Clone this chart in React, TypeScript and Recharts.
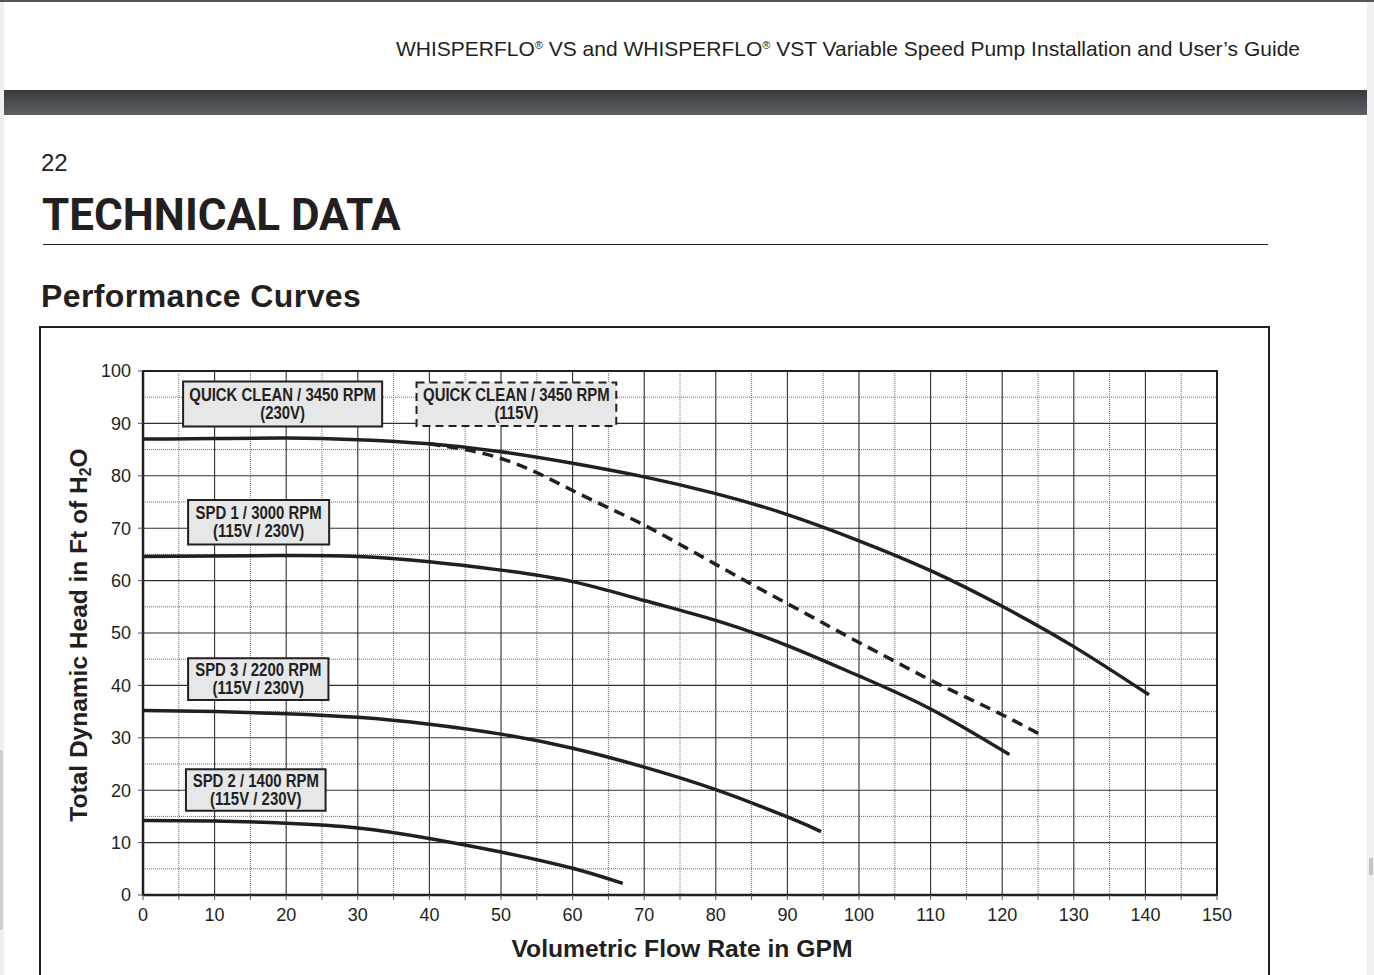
import React from "react";
import { LineChart, Line, XAxis, YAxis, CartesianGrid, ReferenceArea } from "recharts";

const INK = "#231f20";
const SANS = '"Liberation Sans", Arial, Helvetica, sans-serif';

// axis ticks
const xTicks = [0, 5, 10, 15, 20, 25, 30, 35, 40, 45, 50, 55, 60, 65, 70, 75, 80, 85, 90, 95, 100, 105, 110, 115, 120, 125, 130, 135, 140, 145, 150];
const yTicks = [0, 10, 20, 30, 40, 50, 60, 70, 80, 90, 100];
const xMajor = [10, 20, 30, 40, 50, 60, 70, 80, 90, 100, 110, 120, 130, 140];
const xMinor = [5, 15, 25, 35, 45, 55, 65, 75, 85, 95, 105, 115, 125, 135, 145];
const yMajor = [10, 20, 30, 40, 50, 60, 70, 80, 90];
const yMinor = [5, 15, 25, 35, 45, 55, 65, 75, 85, 95];

// curves: [gpm, ft of head]
const quickClean230 = [[0, 87], [10, 87.1], [20, 87.2], [30, 86.9], [40, 86.1], [50, 84.6], [60, 82.4], [70, 79.8], [80, 76.6], [90, 72.6], [100, 67.6], [110, 61.9], [120, 55.1], [130, 47.4], [140.5, 38.2]];
const quickClean115 = [[40, 86.1], [45, 85.0], [50, 83.3], [55, 80.6], [60, 77.2], [65, 73.9], [70, 70.6], [75, 66.9], [80, 63.1], [85, 59.3], [90, 55.6], [95, 51.9], [100, 48.2], [105, 44.6], [110, 41.0], [115, 37.7], [120, 34.4], [125.5, 30.5]];
const spd1 = [[0, 64.6], [10, 64.7], [20, 64.8], [30, 64.6], [40, 63.6], [50, 62.0], [60, 59.8], [70, 56.2], [80, 52.4], [90, 47.6], [100, 41.8], [110, 35.5], [121, 26.8]];
const spd3 = [[0, 35.2], [10, 35.0], [20, 34.6], [30, 33.9], [40, 32.6], [50, 30.7], [60, 28.0], [70, 24.4], [80, 20.1], [90, 14.9], [94.7, 12.1]];
const spd2 = [[0, 14.2], [10, 14.1], [20, 13.7], [30, 12.8], [40, 10.8], [50, 8.2], [60, 5.1], [67, 2.2]];

// label boxes: [x1, x2, y1, y2]
const qc230Box = [5.6, 33.4, 89.4, 98.0];
const qc115Box = [38.2, 66.1, 89.5, 97.8];
const spd1Box = [6.3, 26.0, 66.9, 75.4];
const spd3Box = [6.3, 25.9, 37.2, 45.2];
const spd2Box = [6.0, 25.5, 16.1, 24.0];

const toPoints = (rows: number[][]) => rows.map(([gpm, head]) => ({ gpm, head }));

function BoxLabel(props: any) {
  const { viewBox, lines } = props;
  if (!viewBox) return null;
  const cx = viewBox.x + viewBox.width / 2;
  const cy = viewBox.y + viewBox.height / 2;
  // narrow bold look: squeeze Liberation Sans horizontally around the box centre
  return (
    <g transform={`translate(${cx} 0) scale(0.83 1)`}>
      <text textAnchor="middle" fontFamily={SANS} fontWeight="bold" fontSize={18} fill={INK}>
        <tspan x={0} y={cy - 3}>{lines[0]}</tspan>
        <tspan x={0} y={cy + 15}>{lines[1]}</tspan>
      </text>
    </g>
  );
}

function YTitle(props: any) {
  const { viewBox } = props;
  if (!viewBox) return null;
  const tx = viewBox.x + 4;
  const ty = viewBox.y + viewBox.height / 2 + 2;
  return (
    <text x={tx} y={ty} transform={`rotate(-90, ${tx}, ${ty})`} textAnchor="middle" fontFamily={SANS} fontWeight="bold" fontSize={24.5} fill={INK}>
      Total Dynamic Head in Ft of H<tspan fontSize={16} dy={4}>2</tspan><tspan dy={-4}>O</tspan>
    </text>
  );
}

function XTitle(props: any) {
  const { viewBox } = props;
  if (!viewBox) return null;
  return (
    <text x={viewBox.x + viewBox.width / 2 + 2} y={957} textAnchor="middle" fontFamily={SANS} fontWeight="bold" fontSize={24.7} fill={INK}>
      Volumetric Flow Rate in GPM
    </text>
  );
}

const boxes = [
  { box: qc230Box, lines: ["QUICK CLEAN / 3450 RPM", "(230V)"], dashed: false },
  { box: qc115Box, lines: ["QUICK CLEAN / 3450 RPM", "(115V)"], dashed: true },
  { box: spd1Box, lines: ["SPD 1 / 3000 RPM", "(115V / 230V)"], dashed: false },
  { box: spd3Box, lines: ["SPD 3 / 2200 RPM", "(115V / 230V)"], dashed: false },
  { box: spd2Box, lines: ["SPD 2 / 1400 RPM", "(115V / 230V)"], dashed: false },
];

export default function App() {
  const abs = (s: React.CSSProperties): React.CSSProperties => ({ position: "absolute", ...s });
  const reg = { fontSize: 11, verticalAlign: "7px" };
  return (
    <div style={{ position: "absolute", left: 0, top: 0, width: 1374, height: 975, background: "#fff", overflow: "hidden", fontFamily: SANS, color: INK }}>
      <div style={abs({ left: 0, top: 0, width: 4, height: 975, background: "#efefef" })} />
      <div style={abs({ left: 0, top: 750, width: 3, height: 180, background: "#cfcfcf" })} />
      <div style={abs({ left: 1367, top: 0, width: 7, height: 975, background: "#f0f0f0" })} />
      <div style={abs({ left: 1369, top: 858, width: 4, height: 17, background: "#c4c4c4" })} />
      <div style={abs({ left: 0, top: 0, width: 1374, height: 2, background: "#555" })} />

      <div style={abs({ right: 74, top: 35, fontSize: 21, lineHeight: "21px", whiteSpace: "nowrap" })}>
        WHISPERFLO<sup style={reg}>®</sup> VS and WHISPERFLO<sup style={reg}>®</sup> VST Variable Speed Pump Installation and User’s Guide
      </div>
      <div style={abs({ left: 4, top: 90, width: 1363, height: 25, background: "linear-gradient(#383b3e, #5c6064)" })} />

      <div style={abs({ left: 41, top: 151, fontSize: 24, lineHeight: "24px" })}>22</div>
      <div style={abs({ left: 42, top: 193, fontSize: 44, lineHeight: "44px", fontWeight: 700, fontFamily: "Roboto, sans-serif", whiteSpace: "nowrap" })}>
        TECHNICAL DATA
      </div>
      <div style={abs({ left: 43, top: 244, width: 1225, height: 1, background: INK })} />
      <div style={abs({ left: 41, top: 280, fontSize: 32, lineHeight: "32px", fontWeight: 700, letterSpacing: "0.4px", whiteSpace: "nowrap" })}>
        Performance Curves
      </div>
      <div style={abs({ left: 39, top: 326, width: 1231, height: 700, border: `2px solid ${INK}`, boxSizing: "border-box" })} />

      <LineChart width={1374} height={975} style={abs({ left: 0, top: 0 })} margin={{ top: 371, right: 157, bottom: 10, left: 83 }}>
        <CartesianGrid verticalValues={xMinor} horizontalValues={yMinor} stroke="#6d6d6d" strokeWidth={1} strokeDasharray="1 1" />
        <CartesianGrid verticalValues={xMajor} horizontalValues={yMajor} stroke="#2f2f2f" strokeWidth={1.1} />
        <XAxis
          type="number"
          dataKey="gpm"
          domain={[0, 150]}
          ticks={xTicks}
          interval={0}
          height={70}
          tickSize={5}
          tickMargin={8}
          tickFormatter={(v: number) => (v % 10 === 0 ? String(v) : "")}
          tick={{ fill: INK, fontSize: 18, fontFamily: SANS }}
          tickLine={{ stroke: "#555" }}
          axisLine={{ stroke: INK, strokeWidth: 2.5 }}
          label={<XTitle />}
          allowDataOverflow
        />
        <YAxis
          type="number"
          domain={[0, 100]}
          ticks={yTicks}
          interval={0}
          width={60}
          tickSize={5}
          tickMargin={7}
          tick={{ fill: INK, fontSize: 18, fontFamily: SANS }}
          tickLine={{ stroke: "#555" }}
          axisLine={{ stroke: INK, strokeWidth: 2.5 }}
          label={<YTitle />}
          allowDataOverflow
        />
        <ReferenceArea x1={0} x2={150} y1={0} y2={100} fill="none" stroke={INK} strokeWidth={2} ifOverflow="visible" />
        {boxes.map((b, i) => (
          <ReferenceArea
            key={i}
            x1={b.box[0]}
            x2={b.box[1]}
            y1={b.box[2]}
            y2={b.box[3]}
            fill="#e6e7e8"
            fillOpacity={1}
            stroke={INK}
            strokeWidth={2}
            strokeDasharray={b.dashed ? "8 5" : undefined}
            label={(p: any) => <BoxLabel {...p} lines={b.lines} />}
          />
        ))}
        <Line data={toPoints(quickClean115)} dataKey="head" type="natural" stroke={INK} strokeWidth={3.5} strokeDasharray="11 7" dot={false} isAnimationActive={false} />
        <Line data={toPoints(quickClean230)} dataKey="head" type="natural" stroke={INK} strokeWidth={3.5} dot={false} isAnimationActive={false} />
        <Line data={toPoints(spd1)} dataKey="head" type="natural" stroke={INK} strokeWidth={3.5} dot={false} isAnimationActive={false} />
        <Line data={toPoints(spd3)} dataKey="head" type="natural" stroke={INK} strokeWidth={3.5} dot={false} isAnimationActive={false} />
        <Line data={toPoints(spd2)} dataKey="head" type="natural" stroke={INK} strokeWidth={3.5} dot={false} isAnimationActive={false} />
      </LineChart>
    </div>
  );
}
